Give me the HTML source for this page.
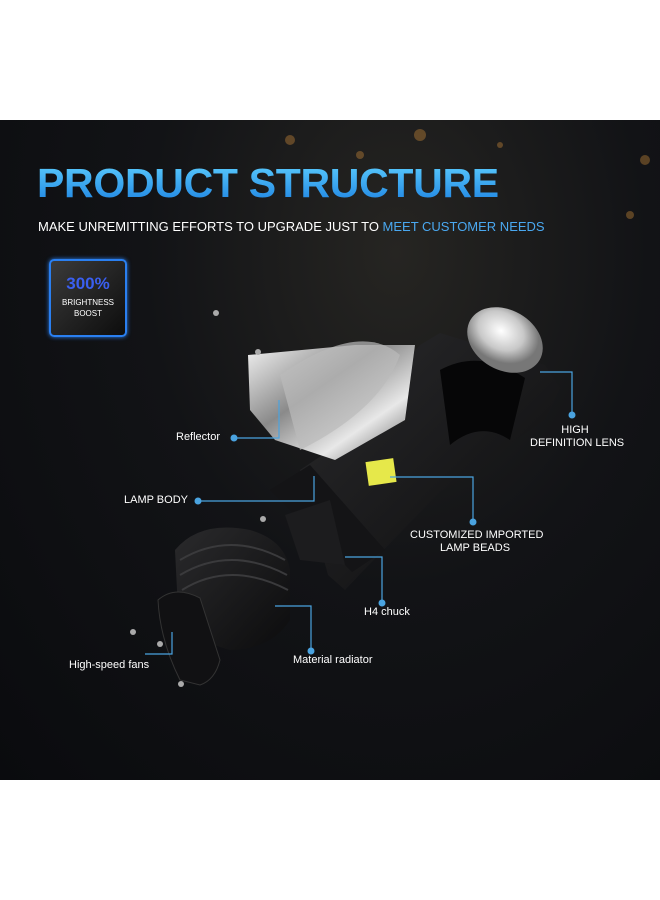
<!DOCTYPE html>
<html><head><style>
html,body{margin:0;padding:0;background:#fff;}
body{width:660px;height:900px;position:relative;overflow:hidden;font-family:"Liberation Sans",sans-serif;}
.bg{position:absolute;left:0;top:120px;width:660px;height:660px;background:radial-gradient(ellipse at 60% 20%,#262522 0%,#121316 45%,#0a0b0e 100%);overflow:hidden;}
.t{position:absolute;color:#fff;font-size:11px;white-space:nowrap;}
</style></head><body>
<div class="bg">
<svg width="660" height="660" style="position:absolute;left:0;top:0">
<defs>
<linearGradient id="sil" x1="0" y1="0" x2="1" y2="1"><stop offset="0" stop-color="#f2f2f2"/><stop offset=".4" stop-color="#8a8a8a"/><stop offset=".7" stop-color="#e8e8e8"/><stop offset="1" stop-color="#555"/></linearGradient>
<linearGradient id="blk" x1="0" y1="0" x2="1" y2="1"><stop offset="0" stop-color="#2a2a2c"/><stop offset="1" stop-color="#0c0c0d"/></linearGradient>
<radialGradient id="lens" cx=".4" cy=".4"><stop offset="0" stop-color="#fff"/><stop offset=".6" stop-color="#c8c8c8"/><stop offset="1" stop-color="#777"/></radialGradient>
</defs>
<g fill="#c9893a" opacity=".4"><circle cx="290" cy="20" r="5"/><circle cx="420" cy="15" r="6"/><circle cx="360" cy="35" r="4"/><circle cx="500" cy="25" r="3"/><circle cx="645" cy="40" r="5"/><circle cx="630" cy="95" r="4"/></g>
<polygon points="420,225 440,213 545,245 560,268 545,300 440,372 362,452 345,470 328,455 300,350 330,330" fill="url(#blk)"/>
<path d="M440,250 Q480,228 525,258 L510,320 Q480,300 450,325 Z" fill="#060607"/>
<polygon points="270,370 310,345 385,430 352,452" fill="#141416"/>
<polygon points="285,395 330,380 345,445 300,440" fill="#1c1c1e"/>
<rect x="367" y="340" width="28" height="24" fill="#e6e84a" transform="rotate(-8 381 352)"/>
<polygon points="248,235 355,225 415,225 405,300 335,340 275,320 250,290" fill="url(#sil)"/>
<path d="M280,255 Q360,200 400,235 Q380,290 300,330 Z" fill="#bbb" opacity=".7"/>
<ellipse cx="505" cy="220" rx="40" ry="30" fill="url(#lens)" transform="rotate(30 505 220)"/>
<path d="M175,430 Q200,400 250,410 Q285,420 290,450 L290,500 Q270,530 230,530 Q190,520 178,490 Z" fill="url(#blk)"/>
<g stroke="#3a3a3c" stroke-width="2" fill="none"><path d="M180,440 Q230,410 285,440"/><path d="M180,455 Q230,425 287,455"/><path d="M182,470 Q230,440 288,470"/></g>
<path d="M158,480 Q175,465 200,478 L220,540 Q215,560 200,565 L180,560 Q160,520 158,480 Z" fill="#111113" stroke="#333" stroke-width="1"/>
<g fill="#aaa"><circle cx="216" cy="193" r="3"/><circle cx="258" cy="232" r="3"/><circle cx="263" cy="399" r="3"/><circle cx="133" cy="512" r="3"/><circle cx="160" cy="524" r="3"/><circle cx="181" cy="564" r="3"/></g>
<g stroke="#4aa3e0" stroke-width="1.2" fill="none">
<polyline points="234,318 279,318 279,280"/>
<polyline points="198,381 314,381 314,356"/>
<polyline points="540,252 572,252 572,295"/>
<polyline points="390,357 473,357 473,402"/>
<polyline points="345,437 382,437 382,483"/>
<polyline points="275,486 311,486 311,531"/>
<polyline points="172,512 172,534 145,534"/>
</g>
<g fill="#4aa3e0"><circle cx="234" cy="318" r="3.5"/><circle cx="198" cy="381" r="3.5"/><circle cx="572" cy="295" r="3.5"/><circle cx="473" cy="402" r="3.5"/><circle cx="382" cy="483" r="3.5"/><circle cx="311" cy="531" r="3.5"/></g>
</svg>
<div style="position:absolute;left:37px;top:40px;font-size:41px;font-weight:bold;color:#2aa8f0;letter-spacing:-0.3px;background:linear-gradient(#5fd0ff,#1a7fe0);-webkit-background-clip:text;background-clip:text;-webkit-text-fill-color:transparent;">PRODUCT STRUCTURE</div>
<div class="t" style="left:38px;top:99px;font-size:13px;letter-spacing:0px;">MAKE UNREMITTING EFFORTS TO UPGRADE JUST TO <span style="color:#4aa8f0">MEET CUSTOMER NEEDS</span></div>
<div style="position:absolute;left:49px;top:139px;width:74px;height:74px;border:2px solid #2a7ff0;border-radius:5px;background:linear-gradient(135deg,#3a3a3a,#0d0d0d);box-shadow:0 0 4px #2a7ff0;text-align:center;color:#fff;">
<div style="font-size:17px;font-weight:bold;color:#3a5ff0;margin-top:13px;">300%</div>
<div style="font-size:8px;margin-top:3px;line-height:11px;">BRIGHTNESS<br>BOOST</div></div>
<div class="t" style="left:176px;top:311px;">Reflector</div>
<div class="t" style="left:124px;top:374px;">LAMP BODY</div>
<div class="t" style="left:530px;top:304px;text-align:center;line-height:13px;width:90px;">HIGH<br>DEFINITION LENS</div>
<div class="t" style="left:410px;top:409px;text-align:center;line-height:13px;width:130px;">CUSTOMIZED IMPORTED<br>LAMP BEADS</div>
<div class="t" style="left:364px;top:486px;">H4 chuck</div>
<div class="t" style="left:293px;top:534px;">Material radiator</div>
<div class="t" style="left:69px;top:539px;">High-speed fans</div>
</div>
</body></html>
